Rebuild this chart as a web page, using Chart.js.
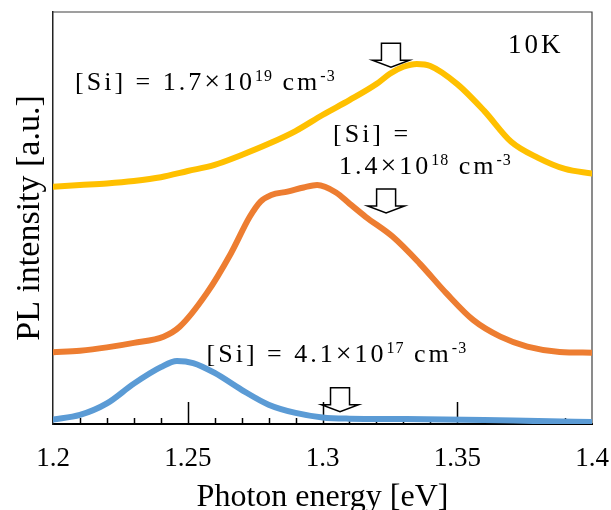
<!DOCTYPE html>
<html>

<head>
   <meta charset="UTF-8">
   <title>PL spectra</title>
   <script src="https://cdn.jsdelivr.net/npm/chart.js@4.4.1/dist/chart.umd.min.js"></script>
   <style>
      body { margin: 0; background: #fff; }
      canvas { display: block; }
   </style>
</head>

<body>
   <canvas id="chart" width="611" height="510"></canvas>
   <script>
      // photon energy [eV] and PL intensity [a.u.]
      // [Si] = 4.1e17 cm-3
      const energy17 = [1.200, 1.210, 1.220, 1.230, 1.240, 1.246, 1.252, 1.260, 1.270, 1.280,
         1.290, 1.300, 1.310, 1.330, 1.360, 1.380, 1.400];
      const pl17 = [0.11, 0.22, 0.50, 0.98, 1.38, 1.53, 1.48, 1.24, 0.83, 0.47,
         0.27, 0.16, 0.13, 0.12, 0.10, 0.07, 0.05];

      // [Si] = 1.4e18 cm-3
      const energy18 = [1.200, 1.210, 1.220, 1.230, 1.241, 1.247, 1.257, 1.266, 1.273, 1.277,
         1.281, 1.287, 1.293, 1.298, 1.305, 1.310, 1.316, 1.326, 1.336, 1.346,
         1.356, 1.366, 1.376, 1.388, 1.400];
      const pl18 = [1.74, 1.78, 1.86, 1.97, 2.12, 2.36, 3.17, 4.14, 5.03, 5.40,
         5.56, 5.64, 5.74, 5.80, 5.62, 5.35, 5.03, 4.55, 3.90, 3.17,
         2.52, 2.12, 1.88, 1.75, 1.73];

      // [Si] = 1.7e19 cm-3
      const energy19 = [1.200, 1.210, 1.220, 1.230, 1.240, 1.250, 1.260, 1.270, 1.280, 1.290,
         1.300, 1.310, 1.320, 1.325, 1.330, 1.335, 1.340, 1.350, 1.360, 1.370,
         1.380, 1.390, 1.400];
      const pl19 = [5.76, 5.80, 5.84, 5.90, 5.99, 6.14, 6.29, 6.53, 6.80, 7.11,
         7.50, 7.86, 8.25, 8.50, 8.67, 8.74, 8.69, 8.25, 7.60, 6.85,
         6.46, 6.19, 6.08];

      const xTickValues = [1.2, 1.25, 1.3, 1.35, 1.4];
      const xTickLabels = ["1.2", "1.25", "1.3", "1.35", "1.4"];

      // labels: [text, kind]  n = normal, x = times sign, s = superscript
      const notes = [
         { x: 1.2082, y: 8.11, parts: [["[Si] = 1.7", "n"], ["×", "x"], ["10", "n"], ["19", "s"], [" cm", "n"], ["-3", "s"]] },
         { x: 1.3039, y: 6.85, parts: [["[Si] =", "n"]] },
         { x: 1.3061, y: 6.07, parts: [["1.4", "n"], ["×", "x"], ["10", "n"], ["18", "s"], [" cm", "n"], ["-3", "s"]] },
         { x: 1.2570, y: 1.51, parts: [["[Si] = 4.1", "n"], ["×", "x"], ["10", "n"], ["17", "s"], [" cm", "n"], ["-3", "s"]] },
         { x: 1.3688, y: 9.00, parts: [["10K", "k"]] }
      ];

      // peak markers (arrow tip position)
      const arrows = [
         { x: 1.3254, y: 8.66 },
         { x: 1.3236, y: 5.12 },
         { x: 1.3065, y: 0.30 }
      ];

      const FONT = '"Liberation Serif", "Times New Roman", serif';

      function toPoints(xs, ys) {
         return xs.map((x, i) => ({ x, y: ys[i] }));
      }

      function drawRich(ctx, x, y, parts) {
         let cx = x;
         for (const [t, k] of parts) {
            let size = 26, spacing = 3, dy = 0;
            if (k == "s") { size = 16; spacing = 1; dy = -9; }
            if (k == "x") { size = 28; }
            if (k == "k") { size = 27; spacing = 3; }
            ctx.font = size + "px " + FONT;
            ctx.letterSpacing = "0px";
            const w = ctx.measureText(t).width + t.length * spacing;
            ctx.letterSpacing = spacing + "px";
            ctx.fillText(t, cx, y + dy);
            cx += w;
         }
         ctx.letterSpacing = "0px";
      }

      function drawArrow(ctx, cx, tip) {
         ctx.beginPath();
         ctx.moveTo(cx - 9.5, tip - 24);
         ctx.lineTo(cx + 9.5, tip - 24);
         ctx.lineTo(cx + 9.5, tip - 7);
         ctx.lineTo(cx + 18.5, tip - 7);
         ctx.lineTo(cx, tip);
         ctx.lineTo(cx - 18.5, tip - 7);
         ctx.lineTo(cx - 9.5, tip - 7);
         ctx.closePath();
         ctx.fillStyle = "#fff";
         ctx.fill();
         ctx.lineWidth = 1.5;
         ctx.strokeStyle = "#000";
         ctx.stroke();
      }

      const framePlugin = {
         id: "frame",
         beforeDatasetsDraw(chart) {
            const { ctx, chartArea: a, scales } = chart;
            ctx.save();
            // top and right border
            ctx.strokeStyle = "#404040";
            ctx.lineWidth = 1.2;
            ctx.beginPath();
            ctx.moveTo(a.left, a.top);
            ctx.lineTo(a.right, a.top);
            ctx.lineTo(a.right, a.bottom);
            ctx.stroke();
            // inside ticks, long every 0.05, short every 0.01
            ctx.strokeStyle = "#000";
            ctx.lineWidth = 1.5;
            for (let i = 1; i < 20; i++) {
               const px = Math.round(scales.x.getPixelForValue(1.2 + i * 0.01)) + 0.5;
               const len = i % 5 == 0 ? 22 : 6;
               ctx.beginPath();
               ctx.moveTo(px, a.bottom);
               ctx.lineTo(px, a.bottom - len);
               ctx.stroke();
            }
            ctx.restore();
         },
         afterDatasetsDraw(chart) {
            const { ctx, scales } = chart;
            ctx.save();
            for (const ar of arrows) {
               drawArrow(ctx, scales.x.getPixelForValue(ar.x), scales.y.getPixelForValue(ar.y));
            }
            ctx.fillStyle = "#000";
            ctx.textBaseline = "alphabetic";
            ctx.textAlign = "left";
            for (const n of notes) {
               drawRich(ctx, scales.x.getPixelForValue(n.x), scales.y.getPixelForValue(n.y), n.parts);
            }
            ctx.restore();
         }
      };

      const lineStyle = {
         borderWidth: 6,
         pointRadius: 0,
         cubicInterpolationMode: "monotone",
         borderCapStyle: "round",
         borderJoinStyle: "round"
      };

      new Chart(document.getElementById("chart"), {
         type: "line",
         data: {
            datasets: [
               { ...lineStyle, data: toPoints(energy17, pl17), borderColor: "#5B9BD5" },
               { ...lineStyle, data: toPoints(energy18, pl18), borderColor: "#ED7D31" },
               { ...lineStyle, data: toPoints(energy19, pl19), borderColor: "#FFC000" }
            ]
         },
         options: {
            responsive: false,
            animation: false,
            layout: { padding: { top: 12, right: 19, left: 0, bottom: 0 } },
            plugins: { legend: { display: false }, tooltip: { enabled: false } },
            scales: {
               x: {
                  type: "linear",
                  min: 1.2,
                  max: 1.4,
                  afterBuildTicks: s => { s.ticks = xTickValues.map(v => ({ value: v })); },
                  afterFit: s => { s.height = 86; },
                  ticks: {
                     callback: (v, i) => xTickLabels[i],
                     font: { family: FONT, size: 27 },
                     color: "#000",
                     padding: 0,
                     maxRotation: 0,
                     autoSkip: false
                  },
                  // invisible outer tick marks only used to push the labels down
                  grid: {
                     display: true,
                     drawOnChartArea: false,
                     drawTicks: true,
                     tickLength: 19,
                     color: "rgba(0,0,0,0)"
                  },
                  border: { color: "#000", width: 2 },
                  title: {
                     display: true,
                     text: "Photon energy [eV]",
                     font: { family: FONT, size: 32, lineHeight: 0.8 },
                     color: "#000",
                     padding: 0
                  }
               },
               y: {
                  min: 0,
                  max: 10,
                  afterFit: s => { s.width = 53; },
                  ticks: { display: false },
                  grid: { display: false },
                  border: { color: "#222", width: 1.5 },
                  title: {
                     display: true,
                     text: "PL intensity [a.u.]",
                     font: { family: FONT, size: 34 },
                     color: "#000",
                     padding: { top: 10, bottom: 0 }
                  }
               }
            }
         },
         plugins: [framePlugin]
      });
   </script>
</body>

</html>
